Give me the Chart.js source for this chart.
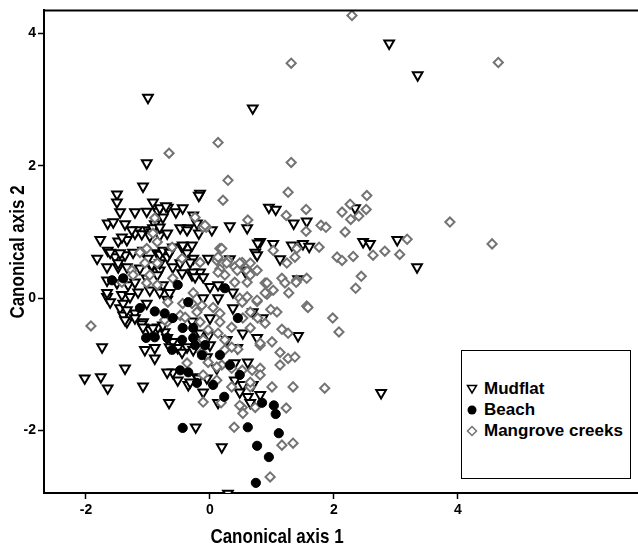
<!DOCTYPE html>
<html>
<head>
<meta charset="utf-8">
<script src="https://cdn.jsdelivr.net/npm/chart.js@4.4.1/dist/chart.umd.min.js"></script>
<style>
  html, body { margin: 0; padding: 0; background: #fff; overflow: hidden; width: 638px; height: 550px; }
  #wrap { position: relative; width: 660px; height: 550px; }
  #legend { position: absolute; left: 461px; top: 350px; width: 168px; height: 127px; border: 1.5px solid #000; background: #fff;
            font-family: "Liberation Sans", Arial, sans-serif; font-weight: bold; font-size: 17px; color: #000; }
  .row { position: absolute; left: 0; height: 21px; line-height: 21px; white-space: nowrap; }
  .row svg { position: absolute; left: 4px; top: 5px; }
  .row span { position: absolute; left: 22px; top: 0; }
</style>
</head>
<body>
<div id="wrap">
  <canvas id="c" width="660" height="550"></canvas>
  <div id="legend"></div>
</div>
<script>
const seriesNames = ["Mudflat", "Beach", "Mangrove creeks"];
const xTicks = [-2, 0, 2, 4];
const yTicks = [-2, 0, 2, 4];
const axisTitles = ["Canonical axis 1", "Canonical axis 2"];

const mudflat = [
[-1.00,3.03],[-1.02,2.04],[-1.08,1.69],[0.69,2.87],[2.89,3.85],[3.35,3.37],[3.34,0.47],[2.76,-1.43],[-0.23,-1.95],[0.19,-2.25],
[-2.02,-1.21],[-1.76,-1.19],[-1.65,-1.36],[-1.37,-1.06],[-1.74,-0.74],[-1.08,-1.33],[-0.66,-1.58],[1.42,-0.57],[0.85,-0.30],[0.29,-2.95],
[0.95,1.37],[1.06,1.34],[1.35,1.13],[1.56,1.16],[2.34,1.36],[2.47,0.85],[2.58,0.82],[3.02,0.88],[1.02,0.82],[1.32,0.80],
[1.50,0.82],[1.60,0.78],[1.13,0.59],[1.42,0.29],[0.81,0.85],[-0.16,1.58],[0.32,1.09],[0.60,1.06],[0.03,1.03],[0.77,0.83],
[0.73,0.69],[-0.03,0.60],[0.32,0.59],[0.56,0.42],
[-1.50,1.57],[-1.50,1.45],[-0.92,1.45],[-0.18,1.55],[-1.45,1.30],[-1.21,1.30],[-1.02,1.31],[-0.84,1.31],[-0.68,1.37],[-0.55,1.30],
[-0.44,1.36],[-0.27,1.25],[-1.65,1.13],[-1.56,1.15],[-1.37,1.12],[-1.18,1.03],[-1.00,1.03],[-0.89,1.12],[-0.76,1.22],[-0.48,1.06],
[-0.35,1.06],[-0.21,1.13],[-0.18,0.98],[-1.77,0.88],[-1.48,0.86],[-1.34,0.88],[-1.21,0.98],[-0.94,1.00],[-0.81,0.95],[-0.60,0.77],
[-0.45,0.77],[-0.29,0.80],[-1.82,0.60],[-1.65,0.72],[-1.53,0.62],[-1.37,0.65],[-1.24,0.69],[-1.08,0.72],[-0.85,0.68],[-0.69,0.62],
[-0.37,0.68],[-0.27,0.60],[-1.66,0.47],[-1.48,0.47],[-1.34,0.47],[-1.13,0.45],[-0.94,0.47],[-0.81,0.42],[-0.60,0.47],[-0.45,0.38],
[-0.29,0.35],[-0.16,0.39],[-0.11,0.32],
[-1.42,0.92],[-1.10,0.97],[-0.97,0.94],[-1.61,0.69],[-1.45,0.68],[-1.00,0.60],[-0.81,0.66],[-1.48,0.53],[-0.94,0.50],[-0.81,0.53],
[-1.66,0.27],[-1.50,0.23],[-1.32,0.20],[-1.21,0.24],[-1.02,0.30],[-0.85,0.35],[-1.66,0.02],[-1.61,-0.06],[-1.42,0.05],[-1.29,0.02],
[-1.16,0.09],[-0.97,0.12],[-0.81,0.09],[-1.45,-0.15],[-1.40,-0.26],[-1.21,-0.23],[-1.02,-0.08],[-0.69,-0.02],[-1.34,-0.36],[-1.08,-0.36],
[-0.81,1.36],[-0.71,1.39],[-1.26,1.03],[-0.92,1.06],[-0.81,1.07],
[-0.37,1.03],[-0.69,0.98],[-0.44,0.80],[-0.76,0.72],[-0.65,0.69],[0.76,0.65],[-0.48,0.53],[-0.32,0.54],[-0.27,0.39],[-0.24,0.32],
[0.58,0.39],[0.00,0.17],[0.13,0.20],[0.37,0.09],[-0.11,0.00],[0.13,0.00],[-0.65,0.08],[-0.76,0.20],[0.37,-0.15],[0.69,-0.21],
[0.00,-0.30],[-0.27,-0.36],
[-0.60,-0.66],[-0.65,-0.74],[-0.52,-0.75],[-0.37,-0.74],[-0.73,-0.51],[-0.29,-0.35],[-0.02,-0.56],[0.00,-0.71],[0.27,-0.63],[0.44,-0.75],
[0.53,-0.53],[0.76,-0.60],[-0.60,-1.12],[-0.52,-1.24],[-0.35,-1.31],[-0.21,-1.19],[-0.11,-1.42],[-0.05,-1.21],[0.11,-1.06],[0.40,-0.98],
[0.61,-0.97],[0.53,-1.31],[0.69,-1.31],[0.48,-1.42],[0.61,-1.49],[0.40,-1.24],[0.13,-1.58],[0.81,-1.46],[0.65,-1.58],[-0.69,-0.60],
[-1.37,-0.33],[-1.21,-0.30],[-1.10,-0.39],[-0.97,-0.48],[-0.84,-0.44],[-1.05,-0.78],[-0.89,-0.75],[-0.89,-0.91],[-0.69,-1.12],
[-1.66,0.08],[-1.40,-0.08],[-1.34,-0.18],[-0.45,-0.82],[-0.32,-1.27],[-0.19,-1.21],[-1.08,-0.44],[-0.92,-0.45],[-0.76,-0.41],[-0.16,-0.53],
[-0.27,-0.78],[-0.05,-0.89]
];

const beach = [
[-1.58,0.27],[-1.40,0.30],[-1.13,-0.15],[-0.89,-0.20],[-0.73,-0.23],[-0.52,0.20],[-0.35,-0.06],[-0.60,-0.30],[-0.44,-0.45],[-0.27,-0.45],
[-1.03,-0.60],[-0.89,-0.59],[-0.69,-0.60],[-0.45,-0.63],[-0.27,-0.60],[-0.13,-0.86],[0.16,-0.86],[-0.48,-1.09],[-0.35,-1.12],[-0.21,-1.28],
[0.05,-1.31],[0.24,0.15],[0.45,-0.30],[0.48,-1.16],[0.23,-1.49],[0.84,-1.58],[1.03,-1.62],[1.06,-1.75],[0.61,-1.95],[1.11,-2.04],
[0.76,-2.23],[0.95,-2.40],[0.74,-2.79],[-0.44,-1.96],[-0.08,-0.71],[0.32,-1.01],[-0.61,-0.78],[-0.24,-0.71]
];

const mangrove = [
[2.29,4.27],[1.31,3.55],[4.65,3.56],[0.13,2.35],[-0.66,2.19],[1.31,2.05],[0.29,1.78],[0.21,1.48],[3.87,1.15],[3.18,0.89],
[3.06,0.66],[4.55,0.82],[1.26,1.60],[0.61,1.18],[1.23,1.25],[1.55,1.34],[1.55,1.01],[1.79,1.10],[1.87,1.07],[2.13,1.30],
[2.26,1.42],[2.53,1.55],[2.52,1.34],[2.40,1.24],[2.27,1.19],[2.18,1.00],[1.76,0.77],[2.05,0.62],[2.13,0.57],[2.31,0.63],
[2.63,0.65],[2.82,0.71],[2.44,0.33],[2.35,0.15],[1.40,0.75],[1.37,0.62],[1.24,0.53],[1.02,0.72],[1.16,0.30],[1.56,0.30],
[0.16,0.75],[-0.06,1.07],[0.52,0.54],[0.76,0.42],[0.65,0.53],[0.19,0.53],[0.11,0.57],[0.16,0.44],[0.60,0.41],[0.40,0.47],
[0.29,0.57],
[1.56,-0.12],[1.98,-0.30],[2.08,-0.51],[1.85,-1.36],[1.34,-1.34],[1.00,-1.34],[1.23,-1.66],[0.39,-1.95],[1.16,-2.22],[1.34,-2.19],
[0.97,-2.70],[1.26,-0.91],[1.37,-0.89],[1.13,-0.82],[1.13,-1.01],[1.00,-0.66],[0.81,-0.71],[1.16,-0.47],[1.26,-0.53],[1.08,-0.21],
[0.98,-0.17],[0.89,-0.38],[0.76,-0.05],[0.89,0.23],[1.40,0.27],[1.27,0.08],[0.65,-0.21],[0.53,-0.30],[0.65,-1.34],[0.52,-1.65],
[0.53,-1.74],[0.18,-1.58],[-0.11,-1.57],[0.45,-0.77],[0.35,-0.74],
[1.02,0.12],[0.92,0.06],[1.58,-0.14],[0.92,0.23],[1.21,0.23],[1.39,0.24],
[-0.89,1.21],[-0.24,1.22],[-0.11,1.07],[-0.92,0.98],[-1.02,0.75],[-0.61,0.77],[-0.45,0.60],[-0.16,0.54],[-0.85,0.53],[-1.26,0.42],
[-0.85,0.85],[-1.13,0.69],[-1.05,0.53],[-1.42,0.24],[-0.97,0.35],[-0.85,0.20],[-1.92,-0.42],
[-0.08,1.10],[0.19,0.75],[0.13,0.62],[0.27,0.53],[0.48,0.53],[0.13,0.39],[0.24,0.35],[0.44,0.42],[0.65,0.35],[-0.60,0.30],
[0.40,0.24],[0.60,0.24],[0.48,0.00],[-0.27,0.08],[-0.44,-0.08],[-0.13,-0.11],[0.05,-0.14],[0.16,-0.23],[0.60,0.02],[0.52,-0.06],
[0.76,-0.03],[0.89,0.08],[-0.69,-0.36],[-0.48,-0.26],[-0.21,-0.21],[0.77,-0.30],
[-0.73,-0.33],[-0.40,-0.29],[0.16,-0.36],[0.35,-0.44],[0.13,-0.53],[0.24,-0.63],[-0.11,-0.63],[0.65,-0.45],[0.81,-0.68],[0.24,-0.78],
[-0.03,-0.97],[0.19,-1.01],[0.35,-1.06],[0.52,-1.09],[0.68,-1.09],[0.81,-1.06],[-0.11,-1.16],[0.11,-1.24],[0.35,-1.34],[0.81,-1.16],
[0.65,-1.27],[0.48,-1.62],[0.73,-1.65],[-0.13,-0.82],
[-0.29,-0.08],[-0.16,-0.36],[-0.03,-0.48],[-0.37,-0.98],[0.11,-1.04],[-0.68,-0.06],[-1.02,0.23],[-1.24,0.35]
];

const toXY = arr => arr.map(p => ({x: p[0], y: p[1]}));
const FONT = '"Liberation Sans", Arial, sans-serif';
const GRAY = '#737373';

const frame = {
  id: 'frame',
  afterDraw(chart) {
    const {ctx, chartArea: a} = chart;
    ctx.save();
    ctx.strokeStyle = '#000';
    ctx.lineWidth = 2;
    ctx.beginPath();
    ctx.moveTo(a.left, a.top); ctx.lineTo(a.right, a.top);
    ctx.lineTo(a.right, a.bottom);
    ctx.stroke();
    // axis titles (slightly tall glyphs as in the original)
    ctx.fillStyle = '#000';
    ctx.font = 'bold 17px ' + FONT;
    ctx.textAlign = 'center';
    ctx.textBaseline = 'middle';
    ctx.save();
    ctx.translate(277, 537);
    ctx.scale(1, 1.18);
    ctx.fillText(axisTitles[0], 0, 0);
    ctx.restore();
    ctx.save();
    ctx.translate(18.5, 252);
    ctx.rotate(-Math.PI / 2);
    ctx.scale(1, 1.18);
    ctx.fillText(axisTitles[1], 0, 0);
    ctx.restore();
    ctx.restore();
  }
};

new Chart(document.getElementById('c'), {
  type: 'scatter',
  data: {
    datasets: [
      { label: seriesNames[0], data: toXY(mudflat), order: 3,
        pointStyle: 'triangle', rotation: 180, pointRadius: 5.6, borderWidth: 2,
        borderColor: '#000', backgroundColor: '#fff' },
      { label: seriesNames[1], data: toXY(beach), order: 1,
        pointStyle: 'circle', pointRadius: 4.6, borderWidth: 1,
        borderColor: '#000', backgroundColor: '#000' },
      { label: seriesNames[2], data: toXY(mangrove), order: 2,
        pointStyle: 'rectRot', pointRadius: 4.6, borderWidth: 2,
        borderColor: GRAY, backgroundColor: '#fff' }
    ]
  },
  options: {
    responsive: false,
    animation: false,
    events: [],
    layout: { padding: { top: 10, right: 10, bottom: 0, left: 0 } },
    plugins: { legend: { display: false }, tooltip: { enabled: false } },
    scales: {
      x: {
        type: 'linear', min: -2.677, max: 7.097,
        afterBuildTicks: s => { s.ticks = xTicks.map(v => ({value: v})); },
        afterFit: s => { s.height = 57; },
        grid: { display: true, drawOnChartArea: false, drawTicks: true, tickLength: 6, tickWidth: 1.5, tickColor: '#000' },
        border: { display: true, color: '#000', width: 2 },
        ticks: { color: '#000', font: { family: FONT, size: 14, weight: 'bold' }, padding: 3, maxRotation: 0 },
        title: { display: false }
      },
      y: {
        type: 'linear', min: -2.943, max: 4.347,
        afterBuildTicks: s => { s.ticks = yTicks.map(v => ({value: v})); },
        afterFit: s => { s.width = 44; },
        grid: { display: true, drawOnChartArea: false, drawTicks: true, tickLength: 6, tickWidth: 1.5, tickColor: '#000' },
        border: { display: true, color: '#000', width: 2 },
        ticks: { color: '#000', font: { family: FONT, size: 14, weight: 'bold' }, padding: 2 },
        title: { display: false }
      }
    }
  },
  plugins: [frame]
});

// legend
const lg = document.getElementById('legend');
const symbols = [
  '<svg width="12" height="12"><polygon points="1.5,2.5 10.5,2.5 6,10" fill="#fff" stroke="#000" stroke-width="1.5"/></svg>',
  '<svg width="12" height="12"><circle cx="6" cy="6" r="4.5" fill="#000"/></svg>',
  '<svg width="12" height="12"><polygon points="6,1.5 10.5,6 6,10.5 1.5,6" fill="#fff" stroke="' + GRAY + '" stroke-width="1.5"/></svg>'
];
const rowTops = [27, 48, 69];
seriesNames.forEach((n, i) => {
  const r = document.createElement('div');
  r.className = 'row';
  r.style.top = rowTops[i] + 'px';
  r.innerHTML = symbols[i] + '<span>' + n + '</span>';
  lg.appendChild(r);
});
</script>
</body>
</html>
